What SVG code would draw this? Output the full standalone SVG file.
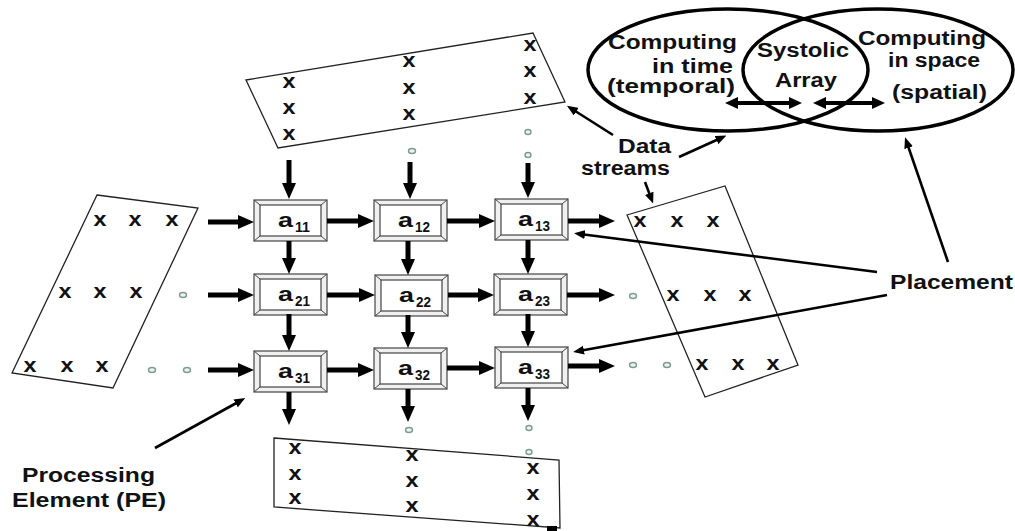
<svg xmlns="http://www.w3.org/2000/svg" xmlns:xlink="http://www.w3.org/1999/xlink" width="1015" height="531" viewBox="0 0 1015 531">
  <style>
    .lbl { font-family: "Liberation Sans", Arial, sans-serif; font-weight: bold; font-size: 20px; fill: #111; }
    .pe-a { font-family: "Liberation Sans", Arial, sans-serif; font-weight: bold; font-size: 21px; fill: #111; }
    .pe-sub { font-family: "Liberation Sans", Arial, sans-serif; font-weight: bold; font-size: 14px; fill: #111; }
    .x { font-family: "Liberation Sans", Arial, sans-serif; font-weight: bold; font-size: 20px; fill: #111; text-anchor: middle; }
    .frame { fill: none; stroke: #222; stroke-width: 1.3; }
    .dot { fill: #eef3f0; stroke: #7d9c8f; stroke-width: 1.4; }
    .flow { stroke: #000; stroke-width: 5; fill: none; marker-end: url(#bigHead); }
    .note { stroke: #000; stroke-width: 2.6; fill: none; marker-end: url(#smallHead); }
    .dbl { stroke: #000; stroke-width: 4; fill: none; marker-start: url(#dblHead); marker-end: url(#dblHead); }
    .set { fill: none; stroke: #000; stroke-width: 3.5; }
  </style>
  <defs>
    <marker id="bigHead" markerUnits="userSpaceOnUse" markerWidth="16" markerHeight="14" refX="6" refY="7" orient="auto">
      <path d="M0,0 L16,7 L0,14 z" fill="#000"/>
    </marker>
    <marker id="smallHead" markerUnits="userSpaceOnUse" markerWidth="11" markerHeight="9" refX="5" refY="4.5" orient="auto">
      <path d="M0,0 L11,4.5 L0,9 z" fill="#000"/>
    </marker>
    <marker id="dblHead" markerUnits="userSpaceOnUse" markerWidth="13" markerHeight="12" refX="5" refY="6" orient="auto-start-reverse">
      <path d="M0,0 L13,6 L0,12 z" fill="#000"/>
    </marker>
    <g id="pe-frame">
      <rect x="0" y="0" width="73" height="41" fill="#f0f0f0" stroke="#444" stroke-width="1.2"/>
      <rect x="6" y="5" width="61" height="31" fill="#fff" stroke="#444" stroke-width="1.2"/>
      <path d="M0,0 L6,5 M73,0 L67,5 M0,41 L6,36 M73,41 L67,36" stroke="#444" stroke-width="1"/>
    </g>
  </defs>

  <rect width="1015" height="531" fill="#fff"/>

  <!-- temporal / spatial sets -->
  <g id="sets">
    <ellipse class="set" cx="728" cy="70" rx="140" ry="61"/>
    <ellipse class="set" cx="878" cy="70" rx="135" ry="61"/>
    <text class="lbl" x="608" y="49" textLength="129" lengthAdjust="spacingAndGlyphs">Computing</text>
    <text class="lbl" x="652" y="73" textLength="81" lengthAdjust="spacingAndGlyphs">in time</text>
    <text class="lbl" x="607" y="93" textLength="128" lengthAdjust="spacingAndGlyphs">(temporal)</text>
    <text class="lbl" x="757" y="57" textLength="92" lengthAdjust="spacingAndGlyphs">Systolic</text>
    <text class="lbl" x="775" y="87" textLength="62" lengthAdjust="spacingAndGlyphs">Array</text>
    <text class="lbl" x="858" y="45" textLength="128" lengthAdjust="spacingAndGlyphs">Computing</text>
    <text class="lbl" x="888" y="67" textLength="92" lengthAdjust="spacingAndGlyphs">in space</text>
    <text class="lbl" x="892" y="99" textLength="95" lengthAdjust="spacingAndGlyphs">(spatial)</text>
    <line class="dbl" x1="733" y1="103" x2="794" y2="103"/>
    <line class="dbl" x1="821" y1="103" x2="877" y2="103"/>
  </g>

  <!-- data streams -->
  <g id="stream-top">
    <polygon class="frame" points="246,80 533,33 565,102 278,148"/>
    <text class="x" x="289" y="88" textLength="13" lengthAdjust="spacingAndGlyphs">x</text>
    <text class="x" x="289" y="114" textLength="13" lengthAdjust="spacingAndGlyphs">x</text>
    <text class="x" x="289" y="140" textLength="13" lengthAdjust="spacingAndGlyphs">x</text>
    <text class="x" x="409" y="67" textLength="13" lengthAdjust="spacingAndGlyphs">x</text>
    <text class="x" x="409" y="94" textLength="13" lengthAdjust="spacingAndGlyphs">x</text>
    <text class="x" x="409" y="120" textLength="13" lengthAdjust="spacingAndGlyphs">x</text>
    <text class="x" x="530" y="51" textLength="13" lengthAdjust="spacingAndGlyphs">x</text>
    <text class="x" x="530" y="77" textLength="13" lengthAdjust="spacingAndGlyphs">x</text>
    <text class="x" x="530" y="104" textLength="13" lengthAdjust="spacingAndGlyphs">x</text>
    <ellipse class="dot" cx="412" cy="151" rx="3.5" ry="2.5"/>
    <ellipse class="dot" cx="528" cy="132" rx="3" ry="2.5"/>
    <ellipse class="dot" cx="528" cy="155" rx="3" ry="2.5"/>
  </g>

  <g id="stream-left">
    <polygon class="frame" points="97,195 198,208 113,388 12,373"/>
    <text class="x" x="100" y="226" textLength="13" lengthAdjust="spacingAndGlyphs">x</text>
    <text class="x" x="135" y="226" textLength="13" lengthAdjust="spacingAndGlyphs">x</text>
    <text class="x" x="172" y="226" textLength="13" lengthAdjust="spacingAndGlyphs">x</text>
    <text class="x" x="65" y="298" textLength="13" lengthAdjust="spacingAndGlyphs">x</text>
    <text class="x" x="100" y="298" textLength="13" lengthAdjust="spacingAndGlyphs">x</text>
    <text class="x" x="136" y="298" textLength="13" lengthAdjust="spacingAndGlyphs">x</text>
    <text class="x" x="30" y="372" textLength="13" lengthAdjust="spacingAndGlyphs">x</text>
    <text class="x" x="67" y="372" textLength="13" lengthAdjust="spacingAndGlyphs">x</text>
    <text class="x" x="102" y="372" textLength="13" lengthAdjust="spacingAndGlyphs">x</text>
    <ellipse class="dot" cx="183" cy="295" rx="3.5" ry="2.5"/>
    <ellipse class="dot" cx="152" cy="370" rx="3.5" ry="2.5"/>
    <ellipse class="dot" cx="187" cy="370" rx="3.5" ry="2.5"/>
  </g>

  <g id="stream-right">
    <polygon class="frame" points="627,215 725,186 798,365 705,397"/>
    <text class="x" x="640" y="227" textLength="13" lengthAdjust="spacingAndGlyphs">x</text>
    <text class="x" x="677" y="227" textLength="13" lengthAdjust="spacingAndGlyphs">x</text>
    <text class="x" x="713" y="227" textLength="13" lengthAdjust="spacingAndGlyphs">x</text>
    <text class="x" x="673" y="301" textLength="13" lengthAdjust="spacingAndGlyphs">x</text>
    <text class="x" x="710" y="301" textLength="13" lengthAdjust="spacingAndGlyphs">x</text>
    <text class="x" x="745" y="301" textLength="13" lengthAdjust="spacingAndGlyphs">x</text>
    <text class="x" x="702" y="370" textLength="13" lengthAdjust="spacingAndGlyphs">x</text>
    <text class="x" x="738" y="370" textLength="13" lengthAdjust="spacingAndGlyphs">x</text>
    <text class="x" x="773" y="370" textLength="13" lengthAdjust="spacingAndGlyphs">x</text>
    <ellipse class="dot" cx="633" cy="296" rx="3.5" ry="2.5"/>
    <ellipse class="dot" cx="633" cy="365" rx="3.5" ry="2.5"/>
    <ellipse class="dot" cx="667" cy="365" rx="3.5" ry="2.5"/>
  </g>

  <g id="stream-bottom">
    <polygon class="frame" points="274,438 559,460 560,528 274,507"/>
    <text class="x" x="295" y="454" textLength="13" lengthAdjust="spacingAndGlyphs">x</text>
    <text class="x" x="295" y="480" textLength="13" lengthAdjust="spacingAndGlyphs">x</text>
    <text class="x" x="295" y="504" textLength="13" lengthAdjust="spacingAndGlyphs">x</text>
    <text class="x" x="412" y="461" textLength="13" lengthAdjust="spacingAndGlyphs">x</text>
    <text class="x" x="412" y="487" textLength="13" lengthAdjust="spacingAndGlyphs">x</text>
    <text class="x" x="412" y="512" textLength="13" lengthAdjust="spacingAndGlyphs">x</text>
    <text class="x" x="533" y="474" textLength="13" lengthAdjust="spacingAndGlyphs">x</text>
    <text class="x" x="533" y="500" textLength="13" lengthAdjust="spacingAndGlyphs">x</text>
    <text class="x" x="533" y="526" textLength="13" lengthAdjust="spacingAndGlyphs">x</text>
    <ellipse class="dot" cx="409" cy="430" rx="3.5" ry="2.5"/>
    <ellipse class="dot" cx="529" cy="428" rx="3" ry="2.5"/>
    <ellipse class="dot" cx="529" cy="452" rx="3" ry="2.5"/>
    <rect x="547" y="526" width="10" height="5" fill="#000"/>
  </g>

  <!-- processing elements -->
  <g id="pe-a11" transform="translate(254,200)">
    <use xlink:href="#pe-frame"/>
    <text class="pe-a" x="24" y="27" textLength="15" lengthAdjust="spacingAndGlyphs">a</text>
    <text class="pe-sub" x="41" y="32" textLength="15" lengthAdjust="spacingAndGlyphs">11</text>
  </g>
  <g id="pe-a12" transform="translate(374,200)">
    <use xlink:href="#pe-frame"/>
    <text class="pe-a" x="24" y="27" textLength="15" lengthAdjust="spacingAndGlyphs">a</text>
    <text class="pe-sub" x="41" y="32" textLength="15" lengthAdjust="spacingAndGlyphs">12</text>
  </g>
  <g id="pe-a13" transform="translate(495,199)">
    <use xlink:href="#pe-frame"/>
    <text class="pe-a" x="23" y="27" textLength="15" lengthAdjust="spacingAndGlyphs">a</text>
    <text class="pe-sub" x="40" y="32" textLength="15" lengthAdjust="spacingAndGlyphs">13</text>
  </g>
  <g id="pe-a21" transform="translate(254,274)">
    <use xlink:href="#pe-frame"/>
    <text class="pe-a" x="24" y="27" textLength="15" lengthAdjust="spacingAndGlyphs">a</text>
    <text class="pe-sub" x="41" y="32" textLength="15" lengthAdjust="spacingAndGlyphs">21</text>
  </g>
  <g id="pe-a22" transform="translate(375,275)">
    <use xlink:href="#pe-frame"/>
    <text class="pe-a" x="24" y="27" textLength="15" lengthAdjust="spacingAndGlyphs">a</text>
    <text class="pe-sub" x="41" y="32" textLength="15" lengthAdjust="spacingAndGlyphs">22</text>
  </g>
  <g id="pe-a23" transform="translate(494,274)">
    <use xlink:href="#pe-frame"/>
    <text class="pe-a" x="24" y="27" textLength="15" lengthAdjust="spacingAndGlyphs">a</text>
    <text class="pe-sub" x="41" y="32" textLength="15" lengthAdjust="spacingAndGlyphs">23</text>
  </g>
  <g id="pe-a31" transform="translate(254,351)">
    <use xlink:href="#pe-frame"/>
    <text class="pe-a" x="24" y="27" textLength="15" lengthAdjust="spacingAndGlyphs">a</text>
    <text class="pe-sub" x="41" y="32" textLength="15" lengthAdjust="spacingAndGlyphs">31</text>
  </g>
  <g id="pe-a32" transform="translate(374,348)">
    <use xlink:href="#pe-frame"/>
    <text class="pe-a" x="24" y="27" textLength="15" lengthAdjust="spacingAndGlyphs">a</text>
    <text class="pe-sub" x="41" y="32" textLength="15" lengthAdjust="spacingAndGlyphs">32</text>
  </g>
  <g id="pe-a33" transform="translate(495,347)">
    <use xlink:href="#pe-frame"/>
    <text class="pe-a" x="23" y="27" textLength="15" lengthAdjust="spacingAndGlyphs">a</text>
    <text class="pe-sub" x="40" y="32" textLength="15" lengthAdjust="spacingAndGlyphs">33</text>
  </g>

  <!-- annotation labels -->
  <g id="label-data-streams">
    <text class="lbl" x="618" y="153" textLength="53" lengthAdjust="spacingAndGlyphs">Data</text>
    <text class="lbl" x="581" y="175" textLength="89" lengthAdjust="spacingAndGlyphs">streams</text>
  </g>
  <g id="label-placement">
    <text class="lbl" x="890" y="289" textLength="123" lengthAdjust="spacingAndGlyphs">Placement</text>
  </g>
  <g id="label-pe">
    <text class="lbl" x="22" y="482" textLength="133" lengthAdjust="spacingAndGlyphs">Processing</text>
    <text class="lbl" x="12" y="507" textLength="154" lengthAdjust="spacingAndGlyphs">Element (PE)</text>
  </g>

  <!-- connectors -->
  <g id="connectors">
    <!-- inputs from the top stream -->
    <line class="flow" x1="289" y1="160" x2="289" y2="189"/>
    <line class="flow" x1="410" y1="162" x2="410" y2="189"/>
    <line class="flow" x1="528" y1="163" x2="528" y2="188"/>
    <!-- inputs from the left stream -->
    <line class="flow" x1="208" y1="222" x2="244" y2="222"/>
    <line class="flow" x1="208" y1="295" x2="244" y2="295"/>
    <line class="flow" x1="208" y1="370" x2="244" y2="370"/>
    <!-- row 1 -->
    <line class="flow" x1="327" y1="221" x2="364" y2="221"/>
    <line class="flow" x1="447" y1="221" x2="485" y2="221"/>
    <line class="flow" x1="568" y1="221" x2="605" y2="221"/>
    <!-- row 2 -->
    <line class="flow" x1="327" y1="295" x2="365" y2="295"/>
    <line class="flow" x1="448" y1="295" x2="484" y2="295"/>
    <line class="flow" x1="567" y1="295" x2="605" y2="295"/>
    <!-- row 3 -->
    <line class="flow" x1="327" y1="370" x2="364" y2="370"/>
    <line class="flow" x1="447" y1="368" x2="485" y2="368"/>
    <line class="flow" x1="568" y1="366" x2="605" y2="366"/>
    <!-- column 1 -->
    <line class="flow" x1="289" y1="241" x2="289" y2="264"/>
    <line class="flow" x1="289" y1="314" x2="289" y2="341"/>
    <line class="flow" x1="289" y1="392" x2="289" y2="415"/>
    <!-- column 2 -->
    <line class="flow" x1="408" y1="241" x2="408" y2="265"/>
    <line class="flow" x1="408" y1="315" x2="408" y2="338"/>
    <line class="flow" x1="408" y1="389" x2="408" y2="412"/>
    <!-- column 3 -->
    <line class="flow" x1="528" y1="240" x2="528" y2="264"/>
    <line class="flow" x1="528" y1="314" x2="528" y2="337"/>
    <line class="flow" x1="528" y1="388" x2="528" y2="411"/>

    <!-- callouts -->
    <line class="note" x1="613" y1="135" x2="572" y2="109"/>
    <line class="note" x1="679" y1="157" x2="721" y2="138"/>
    <line class="note" x1="645" y1="182" x2="651" y2="198"/>
    <line class="note" x1="877" y1="272" x2="580" y2="234"/>
    <line class="note" x1="887" y1="295" x2="579" y2="351"/>
    <line class="note" x1="948" y1="262" x2="907" y2="143"/>
    <line class="note" x1="155" y1="448" x2="240" y2="401"/>
  </g>
</svg>
